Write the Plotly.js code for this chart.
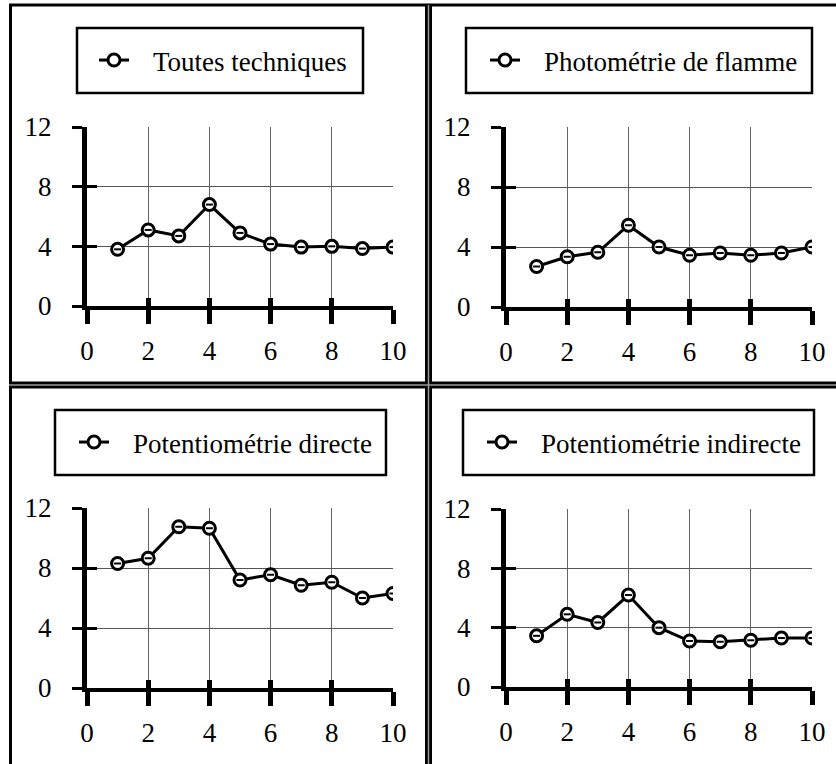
<!DOCTYPE html>
<html><head><meta charset="utf-8">
<script src="https://cdn.plot.ly/plotly-3.0.1.min.js"></script>
<style>html,body{margin:0;padding:0;background:#fff}</style>
</head><body><div id="chart" style="width:836px;height:764px"></div>
<script>
// ---- data ----
const xValues = [1, 2, 3, 4, 5, 6, 7, 8, 9, 10];
const toutesTechniques = [3.8, 5.1, 4.7, 6.8, 4.9, 4.15, 3.95, 4.0, 3.85, 3.95];
const photometrieFlamme = [2.7, 3.35, 3.65, 5.45, 4.0, 3.45, 3.6, 3.45, 3.6, 4.0];
const potentioDirecte = [8.3, 8.65, 10.75, 10.65, 7.2, 7.55, 6.85, 7.05, 6.0, 6.3];
const potentioIndirecte = [3.45, 4.9, 4.35, 6.2, 4.0, 3.1, 3.05, 3.15, 3.3, 3.3];
const seriesNames = ["Toutes techniques", "Photométrie de flamme", "Potentiométrie directe", "Potentiométrie indirecte"];
const xTickVals = [0, 2, 4, 6, 8, 10];
const xTickText = ["0", "2", "4", "6", "8", "10"];
const yTickVals = [0, 4, 8, 12];
const yTickText = ["0", "4", "8", "12"];

const allSeries = [toutesTechniques, photometrieFlamme, potentioDirecte, potentioIndirecte];

// ---- layout geometry (pixels) ----
const W = 836, H = 764;
const PX = v => v / W;
const PY = v => 1 - v / H;
const panelGeom = [
  {xd: [87, 393], yd: [306, 127], box: [77, 28, 363, 93], legX: 94},
  {xd: [506, 812], yd: [307, 127], box: [466, 28, 812, 93], legX: 485},
  {xd: [87, 393], yd: [688, 508], box: [55, 410, 386, 475], legX: 74},
  {xd: [506, 812], yd: [687, 509], box: [463, 410, 814, 475], legX: 482}
];

const FONT = "'Liberation Serif', 'Times New Roman', serif";
const traces = [];
const layout = {
  width: W, height: H,
  margin: {l: 0, r: 0, t: 0, b: 0},
  paper_bgcolor: '#ffffff', plot_bgcolor: 'rgba(0,0,0,0)',
  showlegend: true,
  font: {family: FONT, color: '#000', size: 26},
  shapes: [], annotations: []
};

panelGeom.forEach((g, k) => {
  const i = k + 1, j = k + 5;
  const xa = 'x' + (i === 1 ? '' : i), ya = 'y' + (i === 1 ? '' : i);
  const xo = 'x' + j, yo = 'y' + j;
  const legId = 'legend' + (i === 1 ? '' : i);
  traces.push({
    x: xValues, y: allSeries[k], xaxis: xa, yaxis: ya,
    type: 'scatter', mode: 'lines+markers', name: '\u2002\u2009' + seriesNames[k], legend: legId,
    line: {color: '#000', width: 3},
    marker: {symbol: 'circle', size: 12, color: '#fff', line: {color: '#000', width: 3}},
    hoverinfo: 'x+y'
  });
  traces.push({
    x: xValues, y: allSeries[k], xaxis: xa, yaxis: ya,
    type: 'scatter', mode: 'markers', showlegend: false, hoverinfo: 'skip',
    marker: {symbol: 'line-ew', size: 5, color: '#000', line: {color: '#000', width: 2}}
  });
  traces.push({x: [], y: [], xaxis: xo, yaxis: yo, type: 'scatter', mode: 'markers', showlegend: false, hoverinfo: 'skip'});

  const tickFont = {family: FONT, size: 27, color: '#000'};
  layout['xaxis' + (i === 1 ? '' : i)] = {
    domain: [PX(g.xd[0]), PX(g.xd[1])], anchor: ya, range: [0, 10],
    tickmode: 'array', tickvals: xTickVals, ticktext: xTickText,
    ticks: 'outside', ticklen: 14, tickwidth: 5, tickcolor: '#000',
    showline: true, linewidth: 4, linecolor: '#000',
    showgrid: true, gridcolor: '#666', gridwidth: 1, zeroline: false,
    tickfont: Object.assign({}, tickFont), ticklabelstandoff: 4, fixedrange: true
  };
  layout['yaxis' + (i === 1 ? '' : i)] = {
    domain: [PY(g.yd[0]), PY(g.yd[1])], anchor: xa, range: [0, 12],
    tickmode: 'array', tickvals: yTickVals, ticktext: yTickText,
    ticks: 'outside', ticklen: 10, tickwidth: 3, tickcolor: '#000',
    showline: true, linewidth: 5, linecolor: '#000',
    showgrid: true, gridcolor: '#555', gridwidth: 1, zeroline: false,
    tickfont: Object.assign({}, tickFont), ticklabelstandoff: 15, fixedrange: true
  };
  layout['xaxis' + j] = {
    overlaying: xa, anchor: yo, range: [0, 10],
    tickmode: 'array', tickvals: xTickVals,
    ticks: 'inside', ticklen: 8, tickwidth: 5, tickcolor: '#000',
    showticklabels: false, showgrid: false, zeroline: false, showline: false, fixedrange: true
  };
  layout['yaxis' + j] = {
    overlaying: ya, anchor: xo, range: [0, 12],
    tickmode: 'array', tickvals: yTickVals,
    ticks: 'inside', ticklen: 10, tickwidth: 3, tickcolor: '#000',
    showticklabels: false, showgrid: false, zeroline: false, showline: false, fixedrange: true
  };
  layout[legId] = {
    x: PX(g.legX), y: PY((g.box[1] + g.box[3]) / 2), xanchor: 'left', yanchor: 'middle',
    xref: 'paper', yref: 'paper', itemwidth: 30,
    bgcolor: 'rgba(0,0,0,0)', borderwidth: 0,
    font: {family: FONT, size: 27, color: '#000'}
  };
  layout.shapes.push({
    type: 'rect', xref: 'paper', yref: 'paper',
    x0: PX(g.box[0]), x1: PX(g.box[2]), y0: PY(g.box[3]), y1: PY(g.box[1]),
    line: {color: '#000', width: 2.5}, fillcolor: 'rgba(0,0,0,0)', layer: 'above'
  });
});

// frame lines
const frame = [
  {x0: 10.5, y0: 5, x1: 10.5, y1: 764, w: 3},
  {x0: 9, y0: 5, x1: 836, y1: 5, w: 3}
];
frame.forEach(f => layout.shapes.push({type: 'line', xref: 'paper', yref: 'paper',
  x0: PX(f.x0), x1: PX(f.x1), y0: PY(f.y0), y1: PY(f.y1), line: {color: '#000', width: f.w}, layer: 'above'}));
const dividers = [
  {x0: 428.5, y0: 5, x1: 428.5, y1: 764},
  {x0: 9, y0: 385, x1: 836, y1: 385}
];
dividers.forEach(f => {
  layout.shapes.push({type: 'line', xref: 'paper', yref: 'paper',
    x0: PX(f.x0), x1: PX(f.x1), y0: PY(f.y0), y1: PY(f.y1), line: {color: '#000', width: 7}, layer: 'above'});
});
dividers.forEach(f => {
  layout.shapes.push({type: 'line', xref: 'paper', yref: 'paper',
    x0: PX(f.x0), x1: PX(f.x1), y0: PY(f.y0), y1: PY(f.y1), line: {color: '#9a9a9a', width: 1.5}, layer: 'above'});
});

Plotly.newPlot('chart', traces, layout, {displayModeBar: false, staticPlot: true});
</script></body></html>
